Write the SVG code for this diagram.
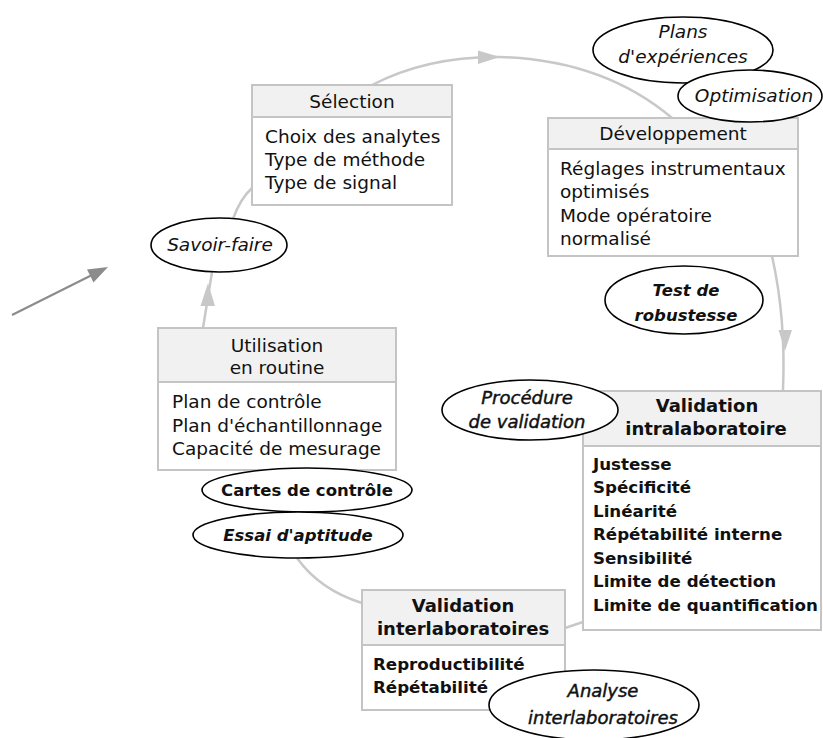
<svg xmlns="http://www.w3.org/2000/svg" width="823" height="738" viewBox="0 0 823 738">
<style>
.box{fill:#fff;stroke:#c4c4c4;stroke-width:2}
.hdr{fill:#f1f1f1;stroke:#c4c4c4;stroke-width:2}
.ell{fill:#fff;stroke:#000;stroke-width:1.6}
.conn{fill:none;stroke:#c8c8c8;stroke-width:2.5}
.ah{fill:#c8c8c8;stroke:none}
text{font-family:"DejaVu Sans","Liberation Sans",sans-serif;fill:#111}
.t{font-size:18.5px}
.c{text-anchor:middle}
.hb{font-size:18px;font-weight:bold}
.bb{font-size:16.7px;font-weight:bold}
.it{font-size:18.5px;font-style:italic}
.im{font-size:18px;font-style:italic;stroke:#111;stroke-width:0.45}
.bi{font-size:16.5px;font-style:italic;font-weight:bold}
</style>

<g id="connectors">
  <path class="conn" d="M372,85 Q428,56 500,57 Q603,60 672,118"/>
  <polygon class="ah" points="500,57 478,50.5 478,64"/>
  <path class="conn" d="M772,256 Q786,318 783,390"/>
  <polygon class="ah" points="785,351 778.5,330 792,330"/>
  <path class="conn" d="M583,622 L565,628"/>
  <path class="conn" d="M362,603 Q320,590 297,558"/>
  <path class="conn" d="M203,328 L212,272"/>
  <polygon class="ah" points="208,283 200.5,306 215,306"/>
  <path class="conn" d="M233,219 Q240,199 252,188"/>
  <line x1="12" y1="315" x2="95" y2="273.5" stroke="#8c8c8c" stroke-width="2.2"/>
  <polygon points="108,267 93.5,282.5 87,269.5" fill="#8c8c8c"/>
</g>

<g id="selection">
  <rect class="box" x="252" y="85" width="200" height="120"/>
  <rect class="hdr" x="252" y="85" width="200" height="32"/>
  <text class="t c" x="352" y="108">Sélection</text>
  <text class="t" x="265" y="143">Choix des analytes</text>
  <text class="t" x="265" y="166">Type de méthode</text>
  <text class="t" x="265" y="189">Type de signal</text>
</g>

<g id="developpement">
  <rect class="box" x="548" y="118" width="250" height="138"/>
  <rect class="hdr" x="548" y="118" width="250" height="31"/>
  <text class="t c" x="673" y="140">Développement</text>
  <text class="t" x="560" y="175">Réglages instrumentaux</text>
  <text class="t" x="560" y="198">optimisés</text>
  <text class="t" x="560" y="222">Mode opératoire</text>
  <text class="t" x="560" y="245">normalisé</text>
</g>

<g id="plans">
  <ellipse class="ell" cx="683" cy="50" rx="90" ry="33"/>
  <text class="it c" x="683" y="38">Plans</text>
  <text class="it c" x="683" y="63">d'expériences</text>
</g>

<g id="optimisation">
  <ellipse class="ell" cx="750" cy="96" rx="72" ry="26"/>
  <text class="it c" x="754" y="102">Optimisation</text>
</g>

<g id="test">
  <ellipse class="ell" cx="684" cy="300" rx="79" ry="34"/>
  <text class="bi c" x="686" y="296">Test de</text>
  <text class="bi c" x="686" y="321">robustesse</text>
</g>

<g id="validation-intra">
  <rect class="box" x="583" y="391" width="238" height="239"/>
  <rect class="hdr" x="583" y="391" width="238" height="55"/>
  <text class="hb c" x="707" y="412">Validation</text>
  <text class="hb c" x="706" y="435">intralaboratoire</text>
  <text class="bb" x="593" y="470">Justesse</text>
  <text class="bb" x="593" y="493">Spécificité</text>
  <text class="bb" x="593" y="517">Linéarité</text>
  <text class="bb" x="593" y="540">Répétabilité interne</text>
  <text class="bb" x="593" y="564">Sensibilité</text>
  <text class="bb" x="593" y="587">Limite de détection</text>
  <text class="bb" x="593" y="611">Limite de quantification</text>
</g>

<g id="procedure">
  <ellipse class="ell" cx="530" cy="410" rx="88" ry="30"/>
  <text class="im c" x="527" y="404">Procédure</text>
  <text class="im c" x="527" y="428">de validation</text>
</g>

<g id="validation-inter">
  <rect class="box" x="362" y="590" width="203" height="120"/>
  <rect class="hdr" x="362" y="590" width="203" height="55"/>
  <text class="hb c" x="463" y="612">Validation</text>
  <text class="hb c" x="463" y="635">interlaboratoires</text>
  <text class="bb" x="373" y="670">Reproductibilité</text>
  <text class="bb" x="373" y="693">Répétabilité</text>
</g>

<g id="analyse">
  <ellipse class="ell" cx="594" cy="705" rx="105" ry="35"/>
  <text class="im c" x="603" y="697">Analyse</text>
  <text class="im c" x="603" y="724">interlaboratoires</text>
</g>

<g id="utilisation">
  <rect class="box" x="158" y="328" width="238" height="142"/>
  <rect class="hdr" x="158" y="328" width="238" height="54"/>
  <text class="t c" x="277" y="352">Utilisation</text>
  <text class="t c" x="277" y="374">en routine</text>
  <text class="t" x="172" y="408">Plan de contrôle</text>
  <text class="t" x="172" y="432">Plan d'échantillonnage</text>
  <text class="t" x="172" y="455">Capacité de mesurage</text>
</g>

<g id="cartes">
  <ellipse class="ell" cx="307" cy="490" rx="105" ry="22"/>
  <text class="c" x="307" y="496" style="font-size:16.5px;font-weight:bold">Cartes de contrôle</text>
</g>

<g id="essai">
  <ellipse class="ell" cx="298" cy="535" rx="105" ry="23"/>
  <text class="bi c" x="298" y="541">Essai d'aptitude</text>
</g>

<g id="savoir">
  <ellipse class="ell" cx="219" cy="245" rx="68" ry="27"/>
  <text class="it c" x="220" y="251">Savoir-faire</text>
</g>
</svg>
